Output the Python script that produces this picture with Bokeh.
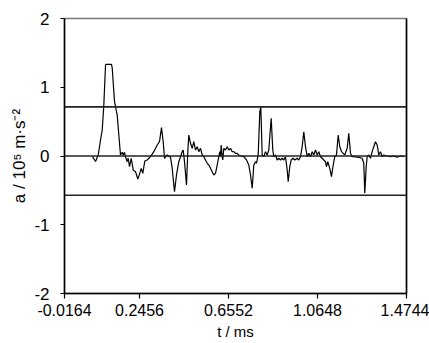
from bokeh.plotting import figure
from bokeh.models import Range1d, FixedTicker, Span, LinearAxis
from bokeh.embed import file_html
from bokeh.resources import INLINE

# time (ms) and acceleration (10^5 m/s^2)
t = [0.0294, 0.0432, 0.0556, 0.0662, 0.0740, 0.0814, 0.0892, 0.0924, 0.1168, 0.1200,
     0.1306, 0.1430, 0.1504, 0.1582, 0.1660, 0.1706, 0.1766, 0.1812, 0.1890, 0.1936,
     0.1996, 0.2075, 0.2167, 0.2272, 0.2378, 0.2470, 0.2535, 0.2608, 0.2700, 0.2811,
     0.2963, 0.3115, 0.3271, 0.3377, 0.3469, 0.3547, 0.3607, 0.3731, 0.3837, 0.3883,
     0.3961, 0.4067, 0.4159, 0.4265, 0.4343, 0.4422, 0.4468, 0.4527, 0.4619, 0.4679,
     0.4725, 0.4804, 0.4882, 0.4955, 0.5034, 0.5112, 0.5185, 0.5264, 0.5342, 0.5416,
     0.5494, 0.5572, 0.5646, 0.5724, 0.5802, 0.5876, 0.5954, 0.6032, 0.6106, 0.6152,
     0.6184, 0.6216, 0.6262, 0.6290, 0.6336, 0.6414, 0.6492, 0.6566, 0.6644, 0.6723,
     0.6796, 0.6874, 0.6953, 0.7026, 0.7105, 0.7256, 0.7381, 0.7486, 0.7565, 0.7643,
     0.7717, 0.7795, 0.7841, 0.7919, 0.7993, 0.8039, 0.8103, 0.8177, 0.8255, 0.8333,
     0.8407, 0.8517, 0.8591, 0.8637, 0.8715, 0.8793, 0.8867, 0.8945, 0.9023, 0.9097,
     0.9175, 0.9254, 0.9300, 0.9373, 0.9438, 0.9530, 0.9603, 0.9714, 0.9787, 0.9866,
     0.9944, 1.0018, 1.0096, 1.0174, 1.0248, 1.0326, 1.0404, 1.0478, 1.0556, 1.0634,
     1.0708, 1.0786, 1.0864, 1.0938, 1.1016, 1.1062, 1.1122, 1.1214, 1.1292, 1.1371,
     1.1444, 1.1522, 1.1601, 1.1674, 1.1753, 1.1831, 1.1904, 1.2015, 1.2088, 1.2167,
     1.2245, 1.2319, 1.2549, 1.2705, 1.2779, 1.2825, 1.2889, 1.2935, 1.3009, 1.3087,
     1.3165, 1.3239, 1.3317, 1.3395, 1.3469, 1.3547, 1.3625, 1.3699, 1.3855, 1.4007,
     1.4159, 1.4316, 1.4468, 1.4619]
a = [-0.010, -0.080, 0.015, 0.233, 0.378, 0.742, 1.324, 1.334, 1.334, 1.280,
     0.790, 0.596, 0.305, 0.015, 0.054, 0.015, 0.054, -0.010, -0.083, -0.033,
     -0.156, -0.033, -0.204, -0.228, -0.335, -0.252, -0.179, -0.252, -0.073, -0.058,
     -0.010, 0.063, 0.160, 0.208, 0.412, 0.208, -0.033, 0.015, -0.010, -0.015,
     -0.179, -0.519, -0.276, -0.083, -0.010, 0.063, 0.087, -0.083, -0.422, 0.063,
     0.305, 0.185, 0.112, 0.208, 0.087, 0.135, 0.063, 0.112, 0.015, -0.010,
     -0.058, -0.106, -0.131, -0.179, -0.228, -0.276, -0.252, -0.131, -0.010, 0.063,
     -0.010, 0.160, -0.010, -0.058, 0.112, 0.087, 0.135, 0.087, 0.112, 0.063,
     0.063, 0.039, 0.039, 0.015, 0.004, -0.010, -0.058, -0.131, -0.276, -0.470,
     -0.131, -0.083, -0.106, 0.015, 0.644, 0.713, 0.015, -0.010, 0.063, 0.015,
     0.087, 0.548, 0.087, -0.010, 0.015, -0.058, -0.033, -0.058, -0.033, -0.058,
     -0.010, -0.204, -0.374, -0.156, -0.058, -0.033, -0.058, -0.033, -0.058, -0.010,
     0.135, 0.353, 0.135, -0.010, 0.039, -0.010, 0.063, 0.015, 0.087, 0.015,
     0.063, -0.010, -0.033, -0.058, -0.083, -0.156, -0.083, -0.179, -0.301, -0.131,
     -0.010, 0.015, 0.305, 0.135, 0.063, 0.039, 0.015, 0.112, 0.330, 0.039,
     -0.010, -0.010, -0.019, -0.033, -0.106, -0.543, -0.156, -0.010, 0.015, -0.033,
     0.063, 0.135, 0.208, 0.160, 0.015, 0.063, -0.010, 0.015, 0.000, -0.010,
     0.000, -0.019, 0.000, -0.010]

# horizontal reference levels
levels = [0.715, 0.0, -0.57]

# axis ticks
x_ticks = [-0.0995, 0.2456, 0.6552, 1.0648, 1.4744]
x_tick_labels = ["-0.0164", "0.2456", "0.6552", "1.0648", "1.4744"]
y_ticks = [-2, -1, 0, 1, 2]
y_tick_labels = ["-2", "-1", "0", "1", "2"]

FONT = "Liberation Sans"

p = figure(width=429, height=343, output_backend="svg", toolbar_location=None,
           x_range=Range1d(-0.0996, 1.4745), y_range=Range1d(-2, 2),
           min_border_left=64, min_border_right=23, min_border_top=18, min_border_bottom=50)
p.background_fill_color = "white"
p.border_fill_color = "white"
p.outline_line_color = "#777777"
p.outline_line_width = 1.5
p.xgrid.visible = False
p.ygrid.visible = False

for lv in levels:
    p.add_layout(Span(location=lv, dimension="width", line_color="#222222", line_width=1.6))

p.line(t, a, line_color="black", line_width=1.2)

p.xaxis.ticker = FixedTicker(ticks=x_ticks)
p.xaxis.major_label_overrides = {v: s for v, s in zip(x_ticks, x_tick_labels)}
p.yaxis.ticker = FixedTicker(ticks=y_ticks)
p.yaxis.major_label_overrides = {v: s for v, s in zip(y_ticks, y_tick_labels)}

for ax in (p.xaxis[0], p.yaxis[0]):
    ax.axis_line_color = "black"
    ax.axis_line_width = 1.5
    ax.major_tick_line_color = "black"
    ax.major_tick_line_width = 1.2
    ax.minor_tick_line_color = None
    ax.major_tick_in = 0
    ax.major_label_text_font = FONT
    ax.major_label_text_color = "black"
    ax.axis_label_text_font = FONT
    ax.axis_label_text_font_style = "normal"
    ax.axis_label_text_color = "black"

p.xaxis.major_label_text_font_size = "16px"
p.xaxis.major_tick_out = 5
p.xaxis.major_label_standoff = 5
p.xaxis.axis_label = "t / ms"
p.xaxis.axis_label_text_font_size = "15px"
p.xaxis.axis_label_standoff = 4
p.yaxis.major_label_text_font_size = "17px"
p.yaxis.major_tick_out = 4
p.yaxis.major_label_standoff = 11
p.yaxis.axis_label = "a / 10⁵ m·s⁻²"
p.yaxis.axis_label_text_font_size = "17px"
p.yaxis.axis_label_standoff = 2

right = LinearAxis(ticker=FixedTicker(ticks=[]), axis_line_color="black", axis_line_width=1.5,
                   major_tick_line_color=None, minor_tick_line_color=None,
                   major_label_text_font_size="0px")
p.add_layout(right, "right")

open("out.html", "w").write(file_html(p, INLINE))
